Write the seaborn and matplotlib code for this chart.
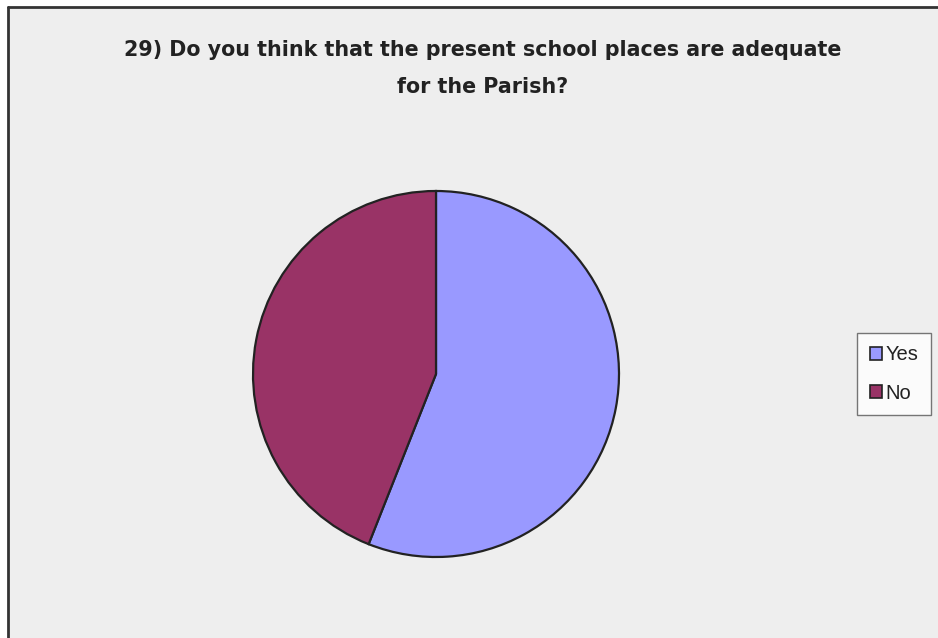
import matplotlib
matplotlib.use("Agg")
import matplotlib.pyplot as plt
import seaborn as sns
from matplotlib.patches import Rectangle, Patch

sns.set_theme(style="white")
plt.rcParams['font.family'] = ['Liberation Sans', 'DejaVu Sans']

categories = ["Yes", "No"]
values = [56, 44]
colors = ["#9999FF", "#993366"]
title_lines = ["29) Do you think that the present school places are adequate",
               "for the Parish?"]

W, H = 938, 638
fig = plt.figure(figsize=(W / 100, H / 100), dpi=100)
fig.patch.set_facecolor("white")

# chart area background and border
bg = Rectangle((8 / W, 0), 1 - 8 / W, 1 - 7 / H, transform=fig.transFigure,
               facecolor="#EEEEEE", edgecolor="none", zorder=-10)
fig.add_artist(bg)
fig.add_artist(plt.Line2D([8 / W, 8 / W], [0, 1 - 7 / H], transform=fig.transFigure,
                          color="#333333", lw=2, zorder=-5))
fig.add_artist(plt.Line2D([8 / W, 1], [1 - 7 / H, 1 - 7 / H], transform=fig.transFigure,
                          color="#333333", lw=2, zorder=-5))

cx, cy, r = 436, 374, 183
ax = fig.add_axes([(cx - r) / W, (H - cy - r) / H, 2 * r / W, 2 * r / H], zorder=5)
ax.set_facecolor("none")
ax.pie(values, colors=colors, startangle=90, counterclock=False,
       wedgeprops=dict(edgecolor="#222222", linewidth=1.6))
ax.set_xlim(-1, 1)
ax.set_ylim(-1, 1)
ax.set_aspect("auto")
ax.axis("off")

for txt, y in zip(title_lines, [50, 87]):
    fig.text(483 / W, 1 - y / H, txt, ha="center", va="center", fontsize=14.9,
             color="#222222", family=["DejaVu Sans"], fontweight="bold")

handles = [Patch(facecolor=c, edgecolor="#222222", linewidth=1.2) for c in colors]
leg = fig.legend(handles, categories, loc="center", bbox_to_anchor=(894 / W, 1 - 374 / H),
                 frameon=True, fontsize=14.5, handlelength=0.6, handleheight=0.6,
                 handletextpad=0.2, labelspacing=0.95, borderpad=0.6, fancybox=False,
                 borderaxespad=0)
leg.set_zorder(6)
leg.get_frame().set_edgecolor("#555555")
leg.get_frame().set_facecolor("white")
leg.get_frame().set_linewidth(1.0)
for t in leg.get_texts():
    t.set_color("#222222")

fig.savefig("out.png", dpi=100, facecolor="white")
